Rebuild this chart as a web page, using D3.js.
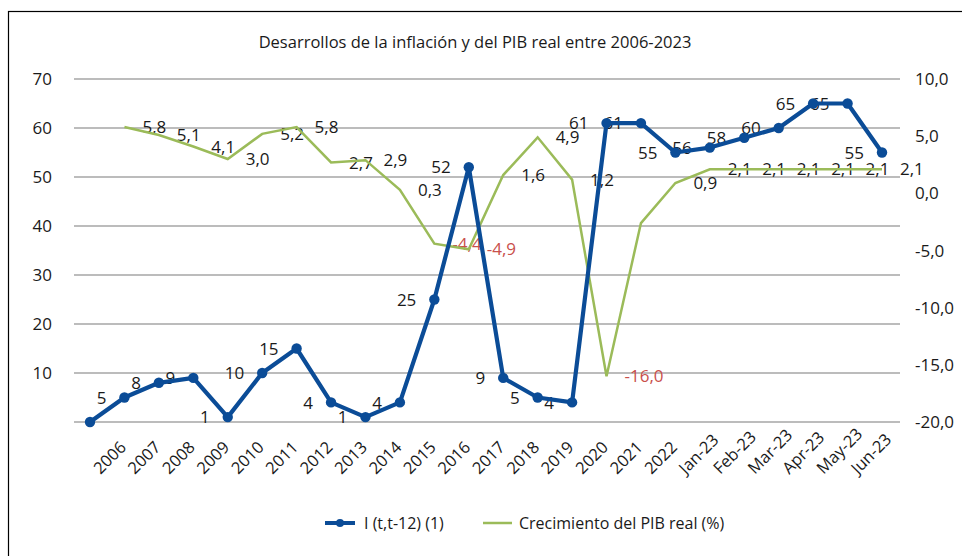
<!DOCTYPE html>
<html>
<head>
<meta charset="utf-8">
<script src="https://cdn.jsdelivr.net/npm/d3@7"></script>
<style>
  body { margin: 0; background: #fff; }
  svg { display: block; font-family: "Open Sans", sans-serif; }
</style>
</head>
<body>
<svg width="962" height="556"></svg>
<script>
// categories (first slot is an empty category, as in the source chart)
var categories = ["", "2006", "2007", "2008", "2009", "2010", "2011", "2012", "2013", "2014",
  "2015", "2016", "2017", "2018", "2019", "2020", "2021", "2022",
  "Jan-23", "Feb-23", "Mar-23", "Apr-23", "May-23", "Jun-23"];

// I (t,t-12) (1) - left axis
var inflacion = [0, 5, 8, 9, 1, 10, 15, 4, 1, 4, 25, 52, 9, 5, 4, 61, 61, 55, 56, 58, 60, 65, 65, 55];
// Crecimiento del PIB real (%) - right axis
var pib = [null, 5.8, 5.1, 4.1, 3.0, 5.2, 5.8, 2.7, 2.9, 0.3, -4.4, -4.9, 1.6, 4.9, 1.2, -16.0, -2.6, 0.9,
  2.1, 2.1, 2.1, 2.1, 2.1, 2.1];

var leftTicks = [0, 10, 20, 30, 40, 50, 60, 70];
var rightTicks = [-20, -15, -10, -5, 0, 5, 10];
var inflacionNoLabel = [""];
var pibNoLabel = ["2021"];

var blue = "#0b4c97", green = "#9bbb59", red = "#c9504c", ink = "#1a1a1a";

var svg = d3.select("svg");

// outer frame
svg.append("rect").attr("x", 8.5).attr("y", 11.5).attr("width", 1000).attr("height", 600)
  .attr("fill", "none").attr("stroke", "#000").attr("stroke-width", 1.2);

svg.append("text").attr("x", 475).attr("y", 48).attr("text-anchor", "middle")
  .attr("font-size", 16.5).attr("fill", ink)
  .text("Desarrollos de la inflación y del PIB real entre 2006-2023");

var x = d3.scalePoint().domain(categories).range([90, 882]);
var yL = d3.scaleLinear().domain([0, 70]).range([422, 79]);
var yR = d3.scaleLinear().domain([-20, 10]).range([422, 79]);
var es = d3.formatLocale({ decimal: ",", thousands: ".", grouping: [3], currency: ["", "€"], minus: "-" });
var coma = es.format(".1f");

// gridlines
svg.append("g").selectAll("line").data(leftTicks).enter().append("line")
  .attr("x1", 74).attr("x2", 900)
  .attr("y1", function (d) { return yL(d); }).attr("y2", function (d) { return yL(d); })
  .attr("stroke", "#a6a6a6").attr("stroke-width", 1.4);

// left axis labels
svg.append("g").selectAll("text").data(leftTicks.filter(function (d) { return d > 0; })).enter().append("text")
  .attr("x", 52).attr("y", function (d) { return yL(d); }).attr("dy", "0.36em")
  .attr("text-anchor", "end").attr("font-size", 17).attr("fill", ink)
  .text(function (d) { return d; });

// right axis labels
svg.append("g").selectAll("text").data(rightTicks).enter().append("text")
  .attr("x", 915).attr("y", function (d) { return yR(d); }).attr("dy", "0.36em")
  .attr("font-size", 17).attr("fill", ink)
  .text(coma);

// category labels
svg.append("g").selectAll("text").data(categories.slice(1)).enter().append("text")
  .attr("transform", function (d) { return "translate(" + (x(d) - 24) + ",475) rotate(-45)"; })
  .attr("font-size", 16.5).attr("fill", ink)
  .text(function (d) { return d; });

// data labels (under the lines)
svg.append("g").selectAll("text")
  .data(categories.map(function (c, i) { return { c: c, v: pib[i] }; })
    .filter(function (d) { return d.v !== null && pibNoLabel.indexOf(d.c) < 0; }))
  .enter().append("text")
  .attr("x", function (d) { return x(d.c) + 18; })
  .attr("y", function (d) { return yR(d.v); }).attr("dy", "0.36em")
  .attr("font-size", 17)
  .attr("fill", function (d) { return d.v < 0 ? red : ink; })
  .text(function (d) { return coma(d.v); });

svg.append("g").selectAll("text")
  .data(categories.map(function (c, i) { return { c: c, v: inflacion[i] }; })
    .filter(function (d) { return inflacionNoLabel.indexOf(d.c) < 0; }))
  .enter().append("text")
  .attr("x", function (d) { return x(d.c) - 18; })
  .attr("y", function (d) { return yL(d.v); }).attr("dy", "0.36em")
  .attr("text-anchor", "end").attr("font-size", 17).attr("fill", ink)
  .text(function (d) { return d.v; });

// PIB line
var linePib = d3.line()
  .defined(function (d) { return d.v !== null; })
  .x(function (d) { return x(d.c); }).y(function (d) { return yR(d.v); });
svg.append("path")
  .datum(categories.map(function (c, i) { return { c: c, v: pib[i] }; }))
  .attr("d", linePib).attr("fill", "none").attr("stroke", green).attr("stroke-width", 2.5);

// inflation line + markers
var lineInf = d3.line().x(function (d) { return x(d.c); }).y(function (d) { return yL(d.v); });
var infData = categories.map(function (c, i) { return { c: c, v: inflacion[i] }; });
svg.append("path").datum(infData)
  .attr("d", lineInf).attr("fill", "none").attr("stroke", blue).attr("stroke-width", 4.2)
  .attr("stroke-linejoin", "round");
svg.append("g").selectAll("circle").data(infData).enter().append("circle")
  .attr("cx", function (d) { return x(d.c); }).attr("cy", function (d) { return yL(d.v); })
  .attr("r", 5.2).attr("fill", blue);

// legend
var lg = svg.append("g");
lg.append("line").attr("x1", 325).attr("x2", 355).attr("y1", 523).attr("y2", 523)
  .attr("stroke", blue).attr("stroke-width", 4);
lg.append("circle").attr("cx", 340).attr("cy", 523).attr("r", 4).attr("fill", blue);
lg.append("text").attr("x", 364).attr("y", 523).attr("dy", "0.36em").attr("font-size", 16)
  .attr("fill", ink).text("I (t,t-12) (1)");
lg.append("line").attr("x1", 483).attr("x2", 512).attr("y1", 523).attr("y2", 523)
  .attr("stroke", green).attr("stroke-width", 2.5);
lg.append("text").attr("x", 519).attr("y", 523).attr("dy", "0.36em").attr("font-size", 16)
  .attr("fill", ink).text("Crecimiento del PIB real (%)");
</script>
</body>
</html>
